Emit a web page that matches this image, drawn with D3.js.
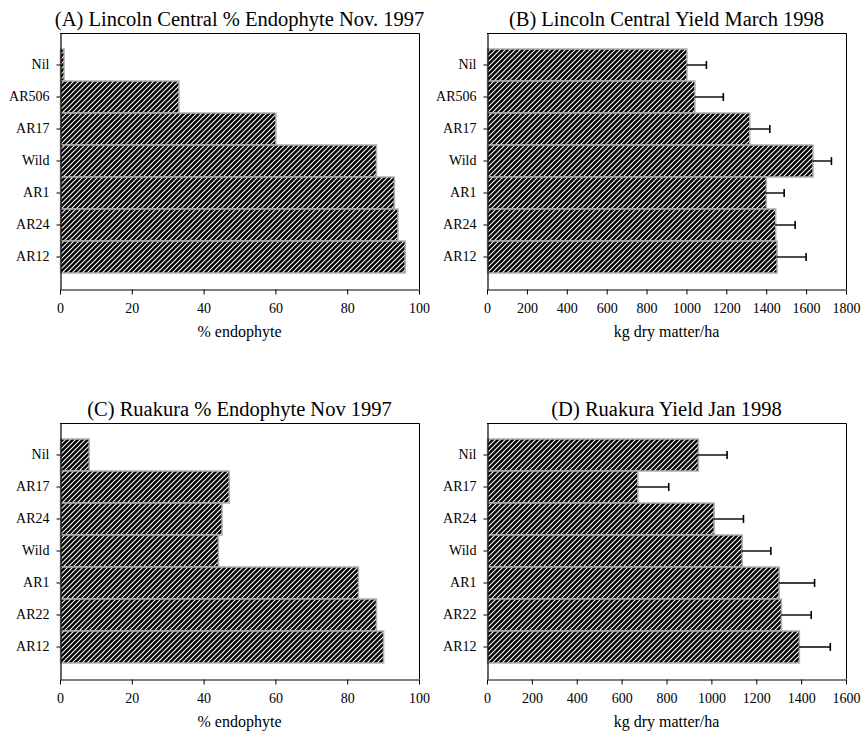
<!DOCTYPE html>
<html>
<head>
<meta charset="utf-8">
<script src="https://cdn.jsdelivr.net/npm/d3@7"></script>
<style>
html,body{margin:0;padding:0;background:#fff;}
svg{display:block;}
text{font-family:"Liberation Serif",serif;fill:#000;}
</style>
</head>
<body>
<svg id="chart" width="861" height="732"></svg>
<script>
// ---- Data ----
const catsLincoln = ["Nil","AR506","AR17","Wild","AR1","AR24","AR12"];
const catsRuakura = ["Nil","AR17","AR24","Wild","AR1","AR22","AR12"];

const endoLincoln = [1, 33, 60, 88, 93, 94, 96];
const yieldLincoln = [1000, 1040, 1315, 1632, 1398, 1445, 1452];
const yieldLincolnErr = [100, 145, 103, 95, 92, 100, 148];

const endoRuakura = [8, 47, 45, 44, 83, 88, 90];
const yieldRuakura = [940, 670, 1010, 1135, 1300, 1310, 1390];
const yieldRuakuraErr = [130, 140, 133, 130, 160, 135, 140];

const ticksEndo = [0, 20, 40, 60, 80, 100];
const ticksYieldB = [0, 200, 400, 600, 800, 1000, 1200, 1400, 1600, 1800];
const ticksYieldD = [0, 200, 400, 600, 800, 1000, 1200, 1400, 1600];

const titles = [
  "(A) Lincoln Central % Endophyte Nov. 1997",
  "(B) Lincoln Central Yield March 1998",
  "(C) Ruakura % Endophyte Nov 1997",
  "(D) Ruakura Yield Jan 1998"
];
const xLabels = ["% endophyte", "kg dry matter/ha", "% endophyte", "kg dry matter/ha"];

// ---- Drawing ----
const FONT = '"Liberation Serif", serif';
const svg = d3.select("#chart");
const defs = svg.append("defs");
const pat = defs.append("pattern")
  .attr("id", "hatch")
  .attr("patternUnits", "userSpaceOnUse")
  .attr("width", 5).attr("height", 5);
pat.append("rect").attr("width", 5).attr("height", 5).attr("fill", "#000");
pat.append("path")
  .attr("d", "M-1,1 L1,-1 M0,5 L5,0 M4,6 L6,4")
  .attr("stroke", "#fff").attr("stroke-width", 1.1);

const panels = [
  {x0: 60, x1: 419, y0: 33, y1: 289, cats: catsLincoln, vals: endoLincoln, err: null, max: 100, ticks: ticksEndo},
  {x0: 487, x1: 846, y0: 33, y1: 289, cats: catsLincoln, vals: yieldLincoln, err: yieldLincolnErr, max: 1800, ticks: ticksYieldB},
  {x0: 60, x1: 419, y0: 423, y1: 679, cats: catsRuakura, vals: endoRuakura, err: null, max: 100, ticks: ticksEndo},
  {x0: 487, x1: 846, y0: 423, y1: 679, cats: catsRuakura, vals: yieldRuakura, err: yieldRuakuraErr, max: 1600, ticks: ticksYieldD}
];

panels.forEach((p, i) => {
  const g = svg.append("g");
  const x = d3.scaleLinear().domain([0, p.max]).range([p.x0, p.x1]);
  const y = d3.scaleBand().domain(p.cats).range([p.y0, p.y1]).paddingInner(0).paddingOuter(0.5);
  const data = p.cats.map((c, k) => ({c, v: p.vals[k], e: p.err ? p.err[k] : null}));

  // bars
  g.selectAll("rect.bar").data(data).join("rect")
    .attr("class", "bar")
    .attr("x", x(0) + 0.5)
    .attr("y", d => y(d.c))
    .attr("width", d => Math.max(0, x(d.v) - x(0)))
    .attr("height", y.bandwidth())
    .attr("fill", "url(#hatch)")
    .attr("stroke", "#b0b0b0")
    .attr("stroke-width", 1.5);

  // error bars
  if (p.err) {
    const eb = g.selectAll("g.err").data(data).join("g").attr("class", "err");
    eb.append("line")
      .attr("x1", d => x(d.v)).attr("x2", d => x(d.v + d.e))
      .attr("y1", d => y(d.c) + y.bandwidth() / 2).attr("y2", d => y(d.c) + y.bandwidth() / 2)
      .attr("stroke", "#000").attr("stroke-width", 1.4);
    eb.append("line")
      .attr("x1", d => x(d.v + d.e)).attr("x2", d => x(d.v + d.e))
      .attr("y1", d => y(d.c) + y.bandwidth() / 2 - 4).attr("y2", d => y(d.c) + y.bandwidth() / 2 + 4)
      .attr("stroke", "#000").attr("stroke-width", 1.6);
  }

  // frame (top & right)
  g.append("path")
    .attr("d", `M${p.x0},${p.y0 + 0.5}H${p.x1 + 0.5}V${p.y1}`)
    .attr("fill", "none").attr("stroke", "#000").attr("stroke-width", 1);

  // x axis
  const xa = g.append("g").attr("transform", `translate(0,${p.y1 + 0.5})`)
    .call(d3.axisBottom(x).tickValues(p.ticks).tickFormat(d3.format("d")).tickSize(5).tickSizeOuter(0).tickPadding(9));
  xa.attr("font-family", FONT);
  xa.select(".domain").attr("stroke", "#000").attr("stroke-width", 1.2);
  xa.selectAll("text").style("font-size", "14px").style("font-family", FONT);

  // y axis
  const ya = g.append("g").attr("transform", `translate(${p.x0 + 0.5},0)`)
    .call(d3.axisLeft(y).tickSize(4).tickSizeOuter(0).tickPadding(7));
  ya.attr("font-family", FONT);
  ya.select(".domain").attr("stroke", "#000").attr("stroke-width", 1.2);
  ya.selectAll("text").style("font-size", "14px").style("font-family", FONT);

  // title
  g.append("text")
    .attr("x", (p.x0 + p.x1) / 2).attr("y", p.y0 - 7.5)
    .attr("text-anchor", "middle").style("font-size", "20.5px").style("font-family", FONT)
    .text(titles[i]);

  // x label
  g.append("text")
    .attr("x", (p.x0 + p.x1) / 2).attr("y", p.y1 + 48)
    .attr("text-anchor", "middle").style("font-size", "16px").style("font-family", FONT)
    .text(xLabels[i]);
});
</script>
</body>
</html>
